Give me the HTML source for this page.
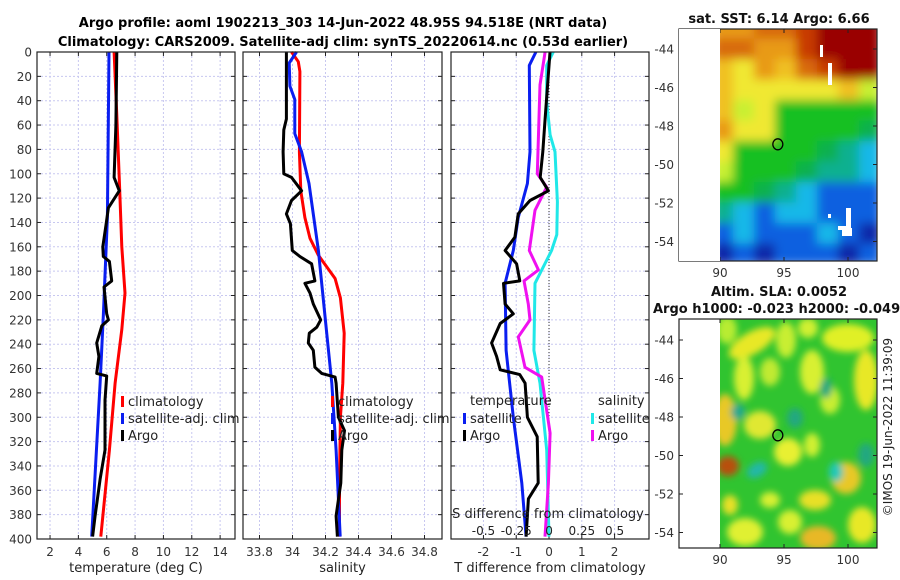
<!DOCTYPE html>
<html><head><meta charset="utf-8"><style>
html,body{margin:0;padding:0;background:#fff;width:900px;height:580px;overflow:hidden}
svg{display:block;font-family:"DejaVu Sans","Liberation Sans",sans-serif}
</style></head><body>
<svg id="fig" width="900" height="580" viewBox="0 0 900 580">
<defs>
<filter id="blur1" x="-10%" y="-10%" width="120%" height="120%"><feGaussianBlur stdDeviation="5"/></filter>
<filter id="blur2" x="-20%" y="-20%" width="140%" height="140%"><feGaussianBlur stdDeviation="3.5"/></filter>
<clipPath id="m1clip"><rect x="720" y="29" width="157" height="232"/></clipPath>
<clipPath id="m2clip"><rect x="720" y="319" width="157" height="229"/></clipPath>
</defs>
<text x="343" y="27" text-anchor="middle" font-size="13" font-weight="bold">Argo profile: aoml 1902213_303 14-Jun-2022 48.95S 94.518E (NRT data)</text>
<text x="343" y="46" text-anchor="middle" font-size="13" font-weight="bold">Climatology: CARS2009. Satellite-adj clim: synTS_20220614.nc (0.53d earlier)</text>
<g id="panels"></g>
<g id="maps"></g>
</svg>
<script>
// ---------- data ----------
const depthTicks=[0,20,40,60,80,100,120,140,160,180,200,220,240,260,280,300,320,340,360,380,400];
const tempTicks=[2,4,6,8,10,12,14];
const salTicks=[33.8,34,34.2,34.4,34.6,34.8];
const tdiffTicks=[-2,-1,0,1,2];
const sdiffTicks=[-0.5,-0.25,0,0.25,0.5];
// panel 1 temperature
const climTdep=[0,50,109,160,198,228,272,327,398];
const climTval=[6.52,6.7,6.9,7.06,7.29,7.06,6.59,6.19,5.58];
const satTdep=[0,136,217,272,398];
const satTval=[6.16,6.05,5.76,5.53,4.94];
const argoTdep=[0,60,103,114,128,142,160,168,172,188,193,215,220,225,239,250,264,266,286,327,351,381,398];
const argoTval=[6.71,6.65,6.52,6.89,6.12,5.95,5.72,5.76,6.19,6.35,5.81,6.0,6.12,5.65,5.29,5.45,5.29,6.0,5.88,5.88,5.53,5.18,5.0];
// panel 2 salinity
const climSdep=[0,8,16,82,114,136,153,167,186,202,231,272,300,354,398];
const climSval=[33.994,34.035,34.045,34.042,34.05,34.075,34.106,34.157,34.258,34.29,34.313,34.305,34.29,34.285,34.285];
const satSdep=[0,9,28,39,67,82,108,163,217,272,327,398];
const satSval=[34.024,33.98,33.984,34.014,34.014,34.055,34.10,34.157,34.197,34.238,34.264,34.289];
const argoSdep=[0,55,64,82,100,103,114,122,133,141,163,168,174,188,190,198,207,220,226,231,239,245,259,264,267,272,300,311,327,354,381,398];
const argoSval=[33.963,33.963,33.947,33.943,33.947,33.994,34.055,33.994,33.963,33.987,33.999,34.045,34.116,34.136,34.075,34.106,34.126,34.171,34.147,34.102,34.096,34.126,34.136,34.177,34.258,34.264,34.278,34.315,34.299,34.293,34.264,34.272];
// panel 3 differences
const satTdDep=[0,11,82,108,136,163,190,245,300,354,398];
const satTdVal=[-0.40,-0.60,-0.58,-0.66,-0.94,-1.09,-1.34,-1.31,-1.09,-0.83,-0.70];
const argoTdDep=[0,55,82,103,114,122,133,152,163,174,188,190,207,215,223,239,250,261,265,272,300,316,354,367,398];
const argoTdVal=[0.03,-0.12,-0.19,-0.27,-0.02,-0.58,-0.94,-1.04,-1.34,-0.99,-0.89,-1.39,-1.34,-1.09,-1.49,-1.75,-1.60,-1.49,-0.89,-0.73,-0.66,-0.36,-0.33,-0.63,-0.70];
const argoSdDep=[0,27,100,111,130,163,179,188,207,220,234,259,267,313,354,398];
const argoSdVal=[-0.03,-0.069,-0.089,-0.018,-0.107,-0.150,-0.081,-0.191,-0.158,-0.145,-0.234,-0.183,-0.056,0.008,-0.005,-0.031];
const satSdDep=[0,11,41,68,82,123,150,163,190,245,272,327,398];
const satSdVal=[0.033,-0.018,-0.018,0.008,0.046,0.064,0.059,0.020,-0.107,-0.115,-0.069,-0.018,0];
// map labels
const latTicks=[-44,-46,-48,-50,-52,-54];
const lonTicks=[90,95,100];
const argoLon=[94.518];
const argoLat=[-48.95];

// ---------- helpers ----------
const NS='http://www.w3.org/2000/svg';
function mk(tag,attrs,parent){const e=document.createElementNS(NS,tag);for(const k in attrs)e.setAttribute(k,attrs[k]);parent.appendChild(e);return e;}
const top0=52,bot0=539;
const yD=d=>top0+d*(bot0-top0)/400;
const panelsG=document.getElementById('panels');
const panels=[
 {l:37,r:235,min:1.08,max:15.05,ticks:tempTicks,lab:'temperature (deg C)',name:'temperature'},
 {l:243,r:442,min:33.7,max:34.906,ticks:salTicks,lab:'salinity',name:'salinity'},
 {l:451,r:649,min:-2.99,max:3.05,ticks:tdiffTicks,lab:'T difference from climatology',name:'difference'}
];
function xf(p){return v=>p.l+(v-p.min)/(p.max-p.min)*(p.r-p.l);}
panels.forEach((p,i)=>{
 const g=mk('g',{},panelsG);
 
 
 const X=xf(p);
 depthTicks.forEach(d=>{
  const gl=mk('line',{x1:p.l,x2:p.r,y1:yD(d),y2:yD(d),stroke:'#c8c8f0','stroke-width':1,'stroke-dasharray':'2,2'},g);
  
  
  mk('line',{x1:p.l,x2:p.l+4,y1:yD(d),y2:yD(d),stroke:'#222'},g);
  mk('line',{x1:p.r-4,x2:p.r,y1:yD(d),y2:yD(d),stroke:'#222'},g);
  if(i===0){const t=mk('text',{x:p.l-5,y:yD(d)+4.5,'text-anchor':'end','font-size':12,fill:'#333'},g);t.textContent=d;
   
   }
 });
 p.ticks.forEach(v=>{
  const gl=mk('line',{x1:X(v),x2:X(v),y1:top0,y2:bot0,stroke:'#c8c8f0','stroke-width':1,'stroke-dasharray':'2,2'},g);
  
  
  mk('line',{x1:X(v),x2:X(v),y1:bot0-4,y2:bot0,stroke:'#222'},g);
  mk('line',{x1:X(v),x2:X(v),y1:top0,y2:top0+4,stroke:'#222'},g);
  const t=mk('text',{x:X(v),y:556,'text-anchor':'middle','font-size':12,fill:'#333'},g);t.textContent=v;
  
  
 });
 const xl=mk('text',{x:(p.l+p.r)/2,y:572,'text-anchor':'middle','font-size':13,fill:'#222'},g);xl.textContent=p.lab;
 
 
 p.g=g;p.X=X;
});
function line(p,deps,vals,color,name,scale){
 const X=p.X;const sc=scale||1;
 const pts=deps.map((d,k)=>X(vals[k]*sc).toFixed(1)+','+yD(d).toFixed(1)).join(' ');
 const e=mk('polyline',{points:pts,fill:'none',stroke:color,'stroke-width':3,'stroke-linejoin':'round'},p.g);
 
 
}
const P1=panels[0],P2=panels[1],P3=panels[2];
line(P1,climTdep,climTval,'#f00','climatology-temperature-line');
line(P1,satTdep,satTval,'#0a1ef0','satellite-temperature-line');
line(P1,argoTdep,argoTval,'#000','argo-temperature-line');
line(P2,climSdep,climSval,'#f00','climatology-salinity-line');
line(P2,satSdep,satSval,'#0a1ef0','satellite-salinity-line');
line(P2,argoSdep,argoSval,'#000','argo-salinity-line');
const zl=mk('line',{x1:P3.X(0),x2:P3.X(0),y1:top0,y2:bot0,stroke:'#333','stroke-dasharray':'1,2'},P3.g);


line(P3,satSdDep,satSdVal,'#20e8e8','satellite-salinity-diff-line',4);
line(P3,argoSdDep,argoSdVal,'#f010f0','argo-salinity-diff-line',4);
line(P3,satTdDep,satTdVal,'#0a1ef0','satellite-temperature-diff-line');
line(P3,argoTdDep,argoTdVal,'#000','argo-temperature-diff-line');
// S ticks inside panel 3
const sl=mk('text',{x:P3.X(0)-1,y:518,'text-anchor':'middle','font-size':13,fill:'#222'},P3.g);sl.textContent='S difference from climatology';


sdiffTicks.forEach(v=>{
 const t=mk('text',{x:P3.X(v*4),y:535,'text-anchor':'middle','font-size':12,fill:'#222'},P3.g);t.textContent=v;
 
 
});
// frames
panels.forEach(p=>{const f=mk('rect',{x:p.l,y:top0,width:p.r-p.l,height:bot0-top0,fill:'none',stroke:'#222','stroke-width':1.2},p.g);
 
 });
// legends
function legend(g,x,y,items){items.forEach((it,k)=>{
 const yy=y+k*17;
 const r=mk('rect',{x:x,y:yy-9,width:3,height:11,fill:it[1]},g);
 
 
 const t=mk('text',{x:x+7,y:yy+1,'font-size':13,fill:'#222'},g);t.textContent=it[0];
 
 
});}
legend(P1.g,121,405,[['climatology','#f00'],['satellite-adj. clim','#0a1ef0'],['Argo','#000']]);
legend(P2.g,331,405,[['climatology','#f00'],['satellite-adj. clim','#0a1ef0'],['Argo','#000']]);
const lt1=mk('text',{x:470,y:405,'font-size':13,fill:'#222'},P3.g);lt1.textContent='temperature';


legend(P3.g,463,422,[['satellite','#0a1ef0'],['Argo','#000']]);
const lt2=mk('text',{x:598,y:405,'font-size':13,fill:'#222'},P3.g);lt2.textContent='salinity';


legend(P3.g,591,422,[['satellite','#20e8e8'],['Argo','#f010f0']]);

// ---------- maps ----------
const mapsG=document.getElementById('maps');
const C={R:'#9a0000',r:'#c83a00',o:'#d86a10',O:'#e89a18',Y:'#f0c020',y:'#f0e830',l:'#c8f030',g:'#18c020',G:'#10b050',t:'#10b090',c:'#18b8e8',b:'#1060e0',B:'#0828a8'};
const sstGrid=[
 'OOoorRRR',
 'ooOOrRRR',
 'YyOYorRR',
 'YyyyyyYl',
 'Ylyggggg',
 'OyyggggG',
 'yggggGtc',
 'lgggGttc',
 'ggGtcbbb',
 'tcbccbbb',
 'bcbbbcbB',
 'BbBbbbBb'];
function mapAxes(name,top,bottom,y44){
 const g=mk('g',{},mapsG);
 
 
 const latY=lat=>y44+(-44-lat)*19.25;
 const lonX=lon=>720+(lon-90)*12.8;
 return {g,latY,lonX,top,bottom};
}
function finishMap(m,titleLines,titleY){
 const {g,latY,lonX,top,bottom}=m;
 mk('rect',{x:679,y:top,width:198,height:bottom-top,fill:'none',stroke:'#222','stroke-width':1.2},g);
 latTicks.forEach(v=>{
  mk('line',{x1:679,x2:683,y1:latY(v),y2:latY(v),stroke:'#222'},g);
  mk('line',{x1:873,x2:877,y1:latY(v),y2:latY(v),stroke:'#222'},g);
  const t=mk('text',{x:674,y:latY(v)+4.5,'text-anchor':'end','font-size':12,fill:'#333'},g);t.textContent=v;
  
  
 });
 lonTicks.forEach(v=>{
  mk('line',{x1:lonX(v),x2:lonX(v),y1:bottom-4,y2:bottom,stroke:'#222'},g);
  mk('line',{x1:lonX(v),x2:lonX(v),y1:top,y2:top+4,stroke:'#222'},g);
  const t=mk('text',{x:lonX(v),y:bottom+16,'text-anchor':'middle','font-size':12,fill:'#333'},g);t.textContent=v;
  
  
 });
 const c=mk('ellipse',{cx:lonX(argoLon[0]),cy:latY(argoLat[0]),rx:5,ry:5.5,fill:'none',stroke:'#000','stroke-width':1.3},g);
 
 
 titleLines.forEach((s,k)=>{
  const t=mk('text',{x:titleLines.length===1?779:(k===0?779:653),y:titleY+k*17,'text-anchor':titleLines.length===1||k===0?'middle':'start','font-size':13,'font-weight':'bold',fill:'#111'},g);t.textContent=s;
  
  
 });
}
// map 1 SST
const m1=mapAxes('sst-map',29,261,49);
const img1=mk('g',{'clip-path':'url(#m1clip)'},m1.g);
const ig1=mk('g',{filter:'url(#blur1)'},img1);
sstGrid.forEach((row,ri)=>{[...row].forEach((ch,ci)=>{
 mk('rect',{x:712+ci*21,y:18+ri*20.5,width:22,height:21.5,fill:C[ch]},ig1);
});});
[[820,45,3,12],[828,63,4,22],[838,226,8,4],[846,208,5,22],[842,228,10,8],[828,214,3,4]].forEach(w=>mk('rect',{x:w[0],y:w[1],width:w[2],height:w[3],fill:'#fff'},img1));
finishMap(m1,['sat. SST: 6.14 Argo: 6.66'],23);
// map 2 SLA
const m2=mapAxes('sla-map',319,548,340);
const img2=mk('g',{'clip-path':'url(#m2clip)'},m2.g);
mk('rect',{x:720,y:319,width:157,height:229,fill:'#30c430'},img2);
const ig2=mk('g',{filter:'url(#blur2)'},img2);
const blobs=[
 [752,343,26,11,-30,'#e8e828'],[727,330,10,14,0,'#b8ec30'],[744,378,10,22,0,'#d8f030'],[770,372,10,14,0,'#c0ea30'],
 [786,340,10,18,0,'#c8ee30'],[808,328,10,10,0,'#d0f030'],[848,338,26,14,0,'#e0f028'],[866,380,12,30,0,'#e8e828'],
 [812,372,12,22,0,'#d8f030'],[830,400,10,14,0,'#c8ee30'],[725,420,12,26,0,'#e8c828'],[760,425,16,14,0,'#e0e830'],
 [788,452,14,14,0,'#e8f030'],[812,445,8,12,0,'#d0f030'],[846,478,15,16,0,'#e8c828'],[728,466,11,10,0,'#b85010'],
 [757,470,11,7,-30,'#20b8a8'],[836,472,7,10,0,'#20c8b8'],[818,538,18,12,0,'#e8b828'],[745,532,18,14,0,'#e0f030'],
 [790,522,12,12,0,'#d8f030'],[862,525,14,18,0,'#e8e828'],[866,455,8,12,0,'#20a880'],[826,388,6,10,0,'#20a880'],
 [795,418,8,10,0,'#20a880'],[738,412,7,8,0,'#20a890'],[815,500,16,10,0,'#e8e028'],[730,505,8,10,0,'#e8e028'],
 [770,500,10,8,0,'#d8f030']];
blobs.forEach(b=>mk('ellipse',{cx:b[0],cy:b[1],rx:b[2],ry:b[3],fill:b[5],transform:`rotate(${b[4]} ${b[0]} ${b[1]})`},ig2));
mk('rect',{x:679,y:319,width:41,height:229,fill:'#fff'},m2.g);
mk('rect',{x:679,y:29,width:41,height:232,fill:'#fff'},m1.g);
finishMap(m2,['Altim. SLA: 0.0052','Argo h1000: -0.023 h2000: -0.049'],296);
const cr=mk('text',{x:0,y:0,'font-size':12,fill:'#222','text-anchor':'middle',transform:'translate(892,427) rotate(-90)'},mapsG);
cr.textContent='©IMOS 19-Jun-2022 11:39:09';


</script>
</body></html>
